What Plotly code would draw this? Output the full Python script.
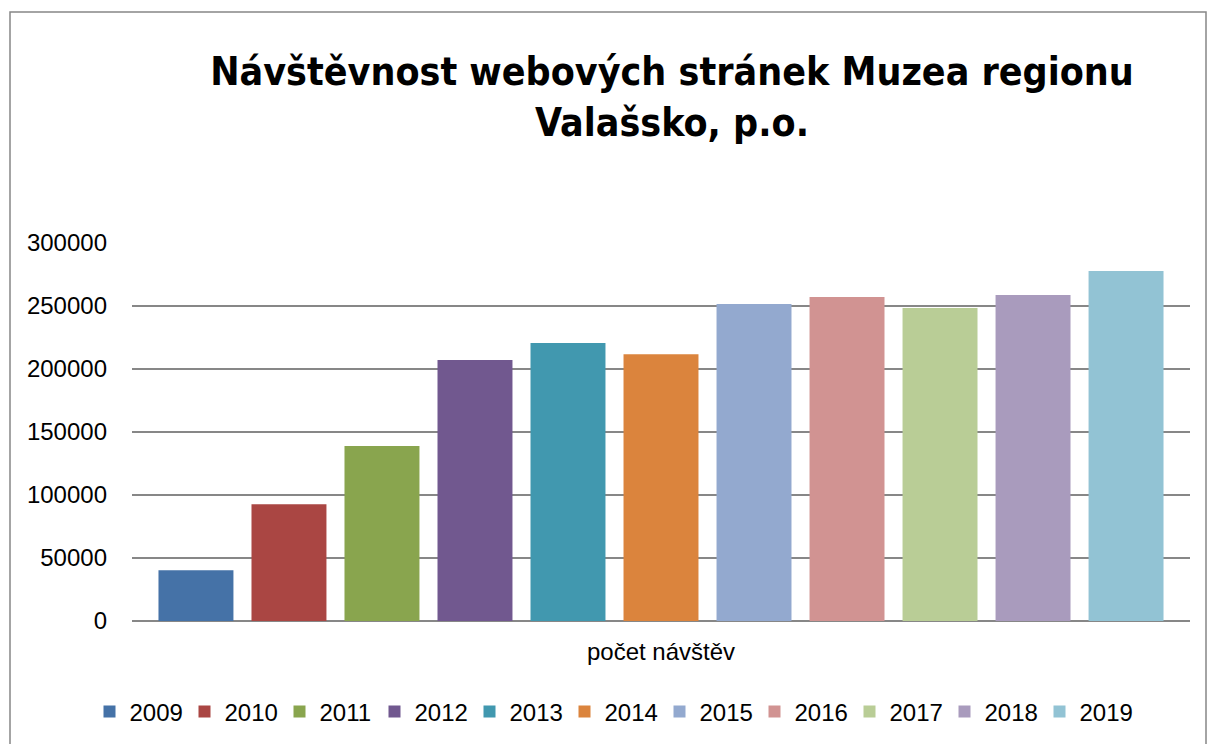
import plotly.graph_objects as go

years = ["2009", "2010", "2011", "2012", "2013", "2014", "2015", "2016", "2017", "2018", "2019"]
visits = [40300, 92700, 138800, 207100, 220600, 211800, 251600, 257100, 248400, 258700, 277800]
colors = ["#4572A7", "#AA4643", "#89A54E", "#71588F", "#4198AF", "#DB843D",
          "#93A9CF", "#D19392", "#B9CD96", "#A99BBD", "#92C3D4"]
category = ["počet návštěv"]
title_text = "Návštěvnost webových stránek Muzea regionu<br>Valašsko, p.o."

W, H = 1207, 744
L, R, T, B = 132, 17, 243, 123

fig = go.Figure()
for yr, v, c in zip(years, visits, colors):
    fig.add_trace(go.Bar(x=category, y=[v], name=yr, marker=dict(color=c, line=dict(width=0))))

pw, ph = W - L - R, H - T - B
def px2x(px):
    return (px - L) / pw
def px2y(py):
    return (H - B - py) / ph

fig.add_shape(type="rect", xref="paper", yref="paper",
              x0=px2x(10), x1=px2x(1206), y0=px2y(760), y1=px2y(12),
              line=dict(color="#878787", width=1.5), fillcolor="rgba(0,0,0,0)", layer="below")

fig.update_layout(
    width=W, height=H,
    margin=dict(l=L, r=R, t=T, b=B),
    paper_bgcolor="white", plot_bgcolor="white",
    barmode="group", bargap=0.033, bargroupgap=0.194,
    title=dict(text=title_text, x=672 / W, xanchor="center", xref="container",
               y=1 - 85 / H, yanchor="top", yref="container",
               font=dict(family="DejaVu Sans Condensed, Liberation Sans, sans-serif", size=39, color="black", weight="bold")),
    font=dict(family="Liberation Sans, Arial, sans-serif", size=24, color="black"),
    xaxis=dict(showgrid=False, showline=False, ticks="", ticklabelstandoff=14,
               tickfont=dict(size=24)),
    yaxis=dict(range=[0, 300000], dtick=50000, tickformat="d", showgrid=True,
               gridcolor="#878787", gridwidth=2, zeroline=True, zerolinecolor="#878787",
               zerolinewidth=2, showline=False, ticks="", ticklabelstandoff=24,
               tickfont=dict(size=24)),
    legend=dict(orientation="h", x=px2x(612), xanchor="center", xref="paper",
                y=1 - 712 / H, yanchor="middle", yref="container",
                font=dict(size=24), itemwidth=30, entrywidth=50, entrywidthmode="pixels",
                traceorder="normal"),
    showlegend=True,
)

fig.write_html("out.html", config={"displayModeBar": False},
               post_script="document.body.style.margin='0';")
